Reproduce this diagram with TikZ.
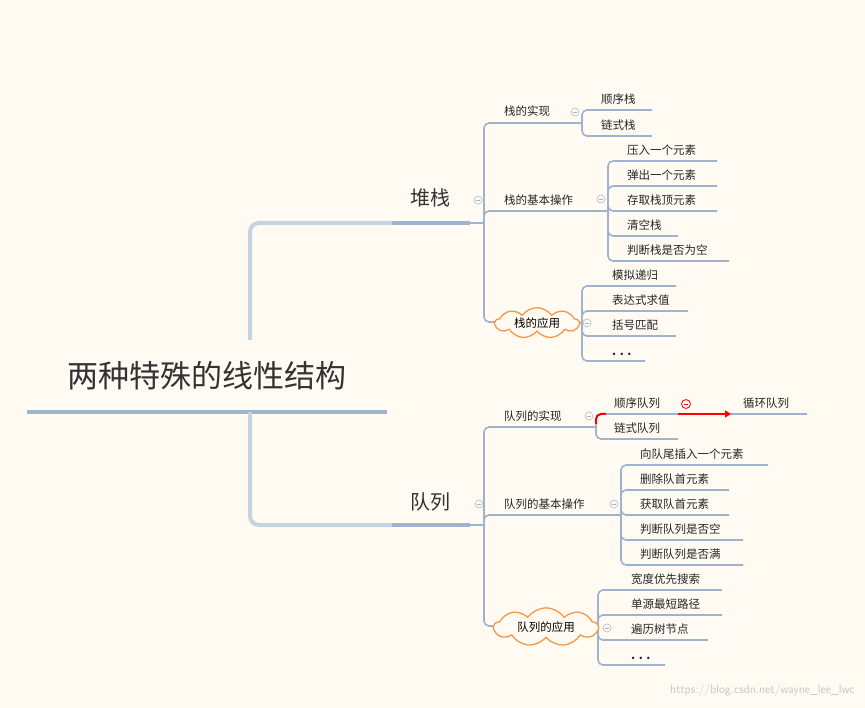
\documentclass[tikz,border=0pt]{standalone}
\usepackage{fontspec}
\setmainfont{Noto Sans CJK SC}
\usetikzlibrary{shapes.symbols,arrows.meta}
\definecolor{bg}{HTML}{FFFBF3}
\definecolor{ln}{HTML}{9FB4CC}
\definecolor{lnl}{HTML}{C5D2E0}
\definecolor{cl}{HTML}{F79646}
\tikzset{
  br/.style={draw=ln,line width=1.6pt,rounded corners=5pt},
  tx/.style={anchor=south west,inner sep=1pt,font=\fontsize{11.5}{12}\selectfont,text=black!85},
  ic/.style={circle,draw=ln!80,fill=bg,minimum size=8pt,inner sep=0pt,line width=0.7pt,
    path picture={\draw[ln,line width=0.8pt] ([xshift=-2pt]path picture bounding box.center)--([xshift=2pt]path picture bounding box.center);}},
  cloudn/.style={cloud,cloud puffs=9,cloud puff arc=110,aspect=3.2,draw=cl,line width=1.3pt,fill=bg,inner sep=0pt,font=\fontsize{11.5}{12}\selectfont},
  big/.style={font=\fontsize{20}{22}\selectfont,text=black!80}
}
\begin{document}
\begin{tikzpicture}[x=1pt,y=-1pt]
\fill[bg] (0,0) rectangle (865,708);
\useasboundingbox (0,0) rectangle (865,708);
% root
\node[font=\fontsize{31}{34}\selectfont,text=black!80] (root) at (207,376) {两种特殊的线性结构};
\draw[ln,line width=3.5pt] (27,412) -- (387,412);
\coordinate (tu) at (250,340);
\coordinate (td) at (250,412);
\coordinate (s1) at (392,223);
\coordinate (q1) at (392,525);
\draw[lnl,line width=4pt,rounded corners=9pt] (tu) |- (s1);
\draw[lnl,line width=4pt,rounded corners=9pt] (td) |- (q1);
% stack
\node[big] (stack) at (430,198) {堆栈};
\coordinate (s2) at (470,223); \coordinate (sj) at (484,223);
\draw[ln,line width=3.5pt] (s1)--(s2);
\draw[br] (s2)--(sj);
\node[ic] (si) at (478,200) {};
\coordinate (sa) at (582,123); \coordinate (sb) at (608,211); \coordinate (sc) at (520,322);
\draw[br] (sj) |- (sa); \draw[br] (sj) |- (sb); \draw[br] (sj) |- (sc);
\node[tx] (sat) at (503,118) {栈的实现};
\node[tx] (sbt) at (503,207) {栈的基本操作};
\node[ic] (sai) at (575,112) {};
\node[ic] (sbi) at (601,199) {};
% impl children
\foreach \y/\e/\t/\n in {110/652/顺序栈/a1,136/652/链式栈/a2}{
  \coordinate (e\n) at (\e,\y);
  \draw[br] (sa) |- (e\n);
  \node[tx] (t\n) at (600,\y-4) {\t};}
\foreach \y/\e/\t/\n in {161/717/压入一个元素/b1,186/717/弹出一个元素/b2,211/717/存取栈顶元素/b3,236/678/清空栈/b4,261/729/判断栈是否为空/b5}{
  \coordinate (e\n) at (\e,\y);
  \draw[br] (sb) |- (e\n);
  \node[tx] (t\n) at (626,\y-4) {\t};}
\coordinate (scj) at (582,323);
\foreach \y/\e/\t/\n in {286/676/模拟递归/c1,311/688/表达式求值/c2,336/676/括号匹配/c3,361/645/\textbf{. . .}/c4}{
  \coordinate (e\n) at (\e,\y);
  \draw[br] (scj) |- (e\n);
  \node[tx] (t\n) at (611,\y-4) {\t};}
\draw[br] (sc) -- (scj);
\node[cloudn,minimum width=84pt,minimum height=30pt] (scl) at (537,323) {栈的应用};
\node[ic] (sci) at (587,323) {};
% queue
\node[big] (queue) at (430,502) {队列};
\coordinate (q2) at (470,525); \coordinate (qj) at (484,525);
\draw[ln,line width=3.5pt] (q1)--(q2);
\draw[br] (q2)--(qj);
\node[ic] (qi) at (479,504) {};
\coordinate (qa) at (596,427); \coordinate (qb) at (621,515); \coordinate (qc) at (520,626);
\draw[br] (qj) |- (qa); \draw[br] (qj) |- (qb); \draw[br] (qj) |- (qc);
\node[tx] (qat) at (503,423) {队列的实现};
\node[tx] (qbt) at (503,511) {队列的基本操作};
\node[ic] (qai) at (589,416) {};
\node[ic] (qbi) at (614,504) {};
\coordinate (ed1) at (807,414); \coordinate (ed2) at (678,439);
\draw[br] (qa) |- (ed1); \draw[br] (qa) |- (ed2);
\draw[red,line width=2pt,rounded corners=5pt] (596,424) |- (606,414);
\coordinate (ra) at (678,414); \coordinate (rb) at (731,414);
\draw[red,line width=2.2pt,-{Triangle[length=6pt,width=7pt]}] (ra)--(rb);
\node[circle,draw=red,minimum size=9pt,inner sep=0pt,line width=0.8pt,fill=bg,
  path picture={\draw[red,line width=0.9pt] ([xshift=-2.2pt]path picture bounding box.center)--([xshift=2.2pt]path picture bounding box.center);}] (rci) at (686,404) {};
\node[tx] (td1) at (613,410) {顺序队列};
\node[tx] (td2) at (613,435) {链式队列};
\node[tx] (td3) at (742,410) {循环队列};
\foreach \y/\e/\t/\n in {465/768/向队尾插入一个元素/f1,490/729/删除队首元素/f2,515/729/获取队首元素/f3,540/743/判断队列是否空/f4,565/743/判断队列是否满/f5}{
  \coordinate (e\n) at (\e,\y);
  \draw[br] (qb) |- (e\n);
  \node[tx] (t\n) at (639,\y-4) {\t};}
\coordinate (qcj) at (598,627);
\foreach \y/\e/\t/\n in {590/722/宽度优先搜索/g1,615/722/单源最短路径/g2,640/708/遍历树节点/g3,665/665/\textbf{. . .}/g4}{
  \coordinate (e\n) at (\e,\y);
  \draw[br] (qcj) |- (e\n);
  \node[tx] (t\n) at (630,\y-4) {\t};}
\draw[br] (qc) -- (qcj);
\node[cloudn,minimum width=104pt,minimum height=32pt] (qcl) at (546,627) {队列的应用};
\node[ic] (qci) at (607,628) {};
\node[text=black!22,font=\fontsize{12}{12}\selectfont\sffamily,anchor=east] (wm) at (858,690) {https://blog.csdn.net/wayne\_lee\_lwc};
\end{tikzpicture}
\end{document}
